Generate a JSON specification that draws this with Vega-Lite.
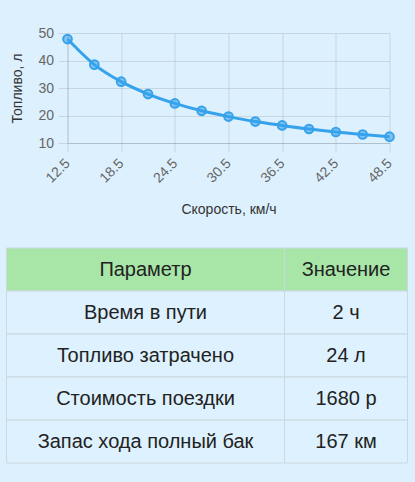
{
  "$schema": "https://vega.github.io/schema/vega-lite/v6.json",
  "background": "#ddf0fd",
  "padding": {"left": 5.5, "top": 26, "right": 8, "bottom": 18.5},
  "config": {
    "view": {"stroke": null},
    "font": "Liberation Sans",
    "axis": {
      "labelFont": "Liberation Sans",
      "titleFont": "Liberation Sans",
      "labelFontSize": 14,
      "titleFontSize": 14,
      "labelColor": "#666",
      "titleColor": "#333",
      "titleFontWeight": "normal",
      "gridColor": "#000",
      "gridOpacity": 0.1,
      "tickColor": "#000",
      "tickOpacity": 0.1,
      "domainColor": "#000",
      "domainOpacity": 0.1,
      "tickSize": 9
    }
  },
  "spacing": 30,
  "vconcat": [
    {
      "spacing": 3,
      "hconcat": [
        {
          "width": 1,
          "height": 110,
          "data": {"values": []},
          "mark": "rect",
          "encoding": {}
        },
        {
          "width": 322,
          "height": 110,
          "data": {
            "values": [
              {"v": 12.5, "fuel": 47.8},
              {"v": 15.5, "fuel": 38.5},
              {"v": 18.5, "fuel": 32.3},
              {"v": 21.5, "fuel": 27.8},
              {"v": 24.5, "fuel": 24.4},
              {"v": 27.5, "fuel": 21.7},
              {"v": 30.5, "fuel": 19.6},
              {"v": 33.5, "fuel": 17.8},
              {"v": 36.5, "fuel": 16.4},
              {"v": 39.5, "fuel": 15.1},
              {"v": 42.5, "fuel": 14.0},
              {"v": 45.5, "fuel": 13.1},
              {"v": 48.5, "fuel": 12.3}
            ]
          },
          "encoding": {
            "x": {
              "field": "v",
              "type": "quantitative",
              "scale": {"domain": [12.5, 48.5], "nice": false, "zero": false},
              "axis": {
                "values": [12.5, 18.5, 24.5, 30.5, 36.5, 42.5, 48.5],
                "format": ".1f",
                "labelAngle": -45,
                "labelAlign": "right",
                "labelBaseline": "middle",
                "labelPadding": 9,
                "title": "Скорость, км/ч",
                "titlePadding": 17
              }
            },
            "y": {
              "field": "fuel",
              "type": "quantitative",
              "scale": {"domain": [10, 50], "nice": false, "zero": false},
              "axis": {
                "values": [10, 20, 30, 40, 50],
                "labelPadding": 5,
                "title": "Топливо, л",
                "titlePadding": 13
              }
            }
          },
          "layer": [
            {"mark": {"type": "line", "interpolate": "monotone", "color": "#36a2eb", "strokeWidth": 3}},
            {"mark": {"type": "circle", "size": 75, "fill": "#36a2eb", "fillOpacity": 0.55, "stroke": "#36a2eb", "strokeWidth": 2, "opacity": 1}}
          ]
        }
      ]
    },
    {
      "data": {
        "values": [
          {"p": "Параметр", "v": "Значение", "kind": "header"},
          {"p": "Время в пути", "v": "2 ч", "kind": "body"},
          {"p": "Топливо затрачено", "v": "24 л", "kind": "body"},
          {"p": "Стоимость поездки", "v": "1680 р", "kind": "body"},
          {"p": "Запас хода полный бак", "v": "167 км", "kind": "body"}
        ]
      },
      "spacing": 0,
      "bounds": "flush",
      "hconcat": [
        {
          "width": 278,
          "height": 215,
          "encoding": {
            "y": {"field": "p", "type": "nominal", "sort": null, "scale": {"paddingInner": 0, "paddingOuter": 0}, "axis": null}
          },
          "layer": [
            {
              "mark": {"type": "rect", "stroke": "#cbd8e0", "strokeWidth": 1},
              "encoding": {
                "color": {"field": "kind", "type": "nominal", "scale": {"domain": ["header", "body"], "range": ["#a8e6a8", "#ddf1fe"]}, "legend": null}
              }
            },
            {
              "mark": {"type": "text", "fontSize": 20, "color": "#222", "font": "Liberation Sans"},
              "encoding": {"text": {"field": "p"}}
            }
          ]
        },
        {
          "width": 123,
          "height": 215,
          "encoding": {
            "y": {"field": "p", "type": "nominal", "sort": null, "scale": {"paddingInner": 0, "paddingOuter": 0}, "axis": null}
          },
          "layer": [
            {
              "mark": {"type": "rect", "stroke": "#cbd8e0", "strokeWidth": 1},
              "encoding": {
                "color": {"field": "kind", "type": "nominal", "scale": {"domain": ["header", "body"], "range": ["#a8e6a8", "#ddf1fe"]}, "legend": null}
              }
            },
            {
              "mark": {"type": "text", "fontSize": 20, "color": "#222", "font": "Liberation Sans"},
              "encoding": {"text": {"field": "v"}}
            }
          ]
        }
      ]
    }
  ]
}
